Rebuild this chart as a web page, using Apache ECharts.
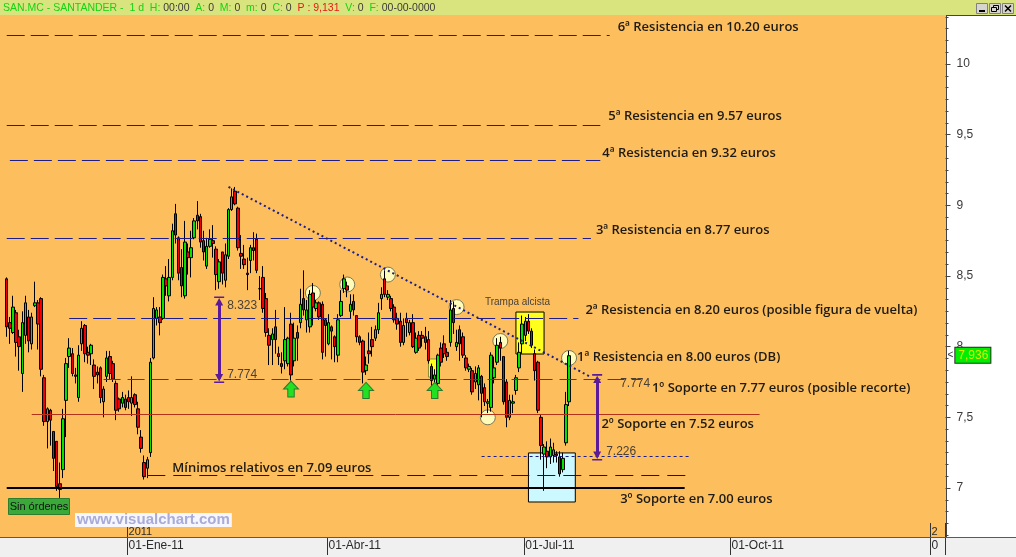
<!DOCTYPE html>
<html lang="es">
<head>
<meta charset="utf-8">
<title>SAN.MC - SANTANDER</title>
<script src="https://cdn.jsdelivr.net/npm/echarts@6/dist/echarts.min.js"></script>
<style>
html,body{margin:0;padding:0;background:#fdbf5d;overflow:hidden}
#chart{width:1016px;height:557px}
</style>
</head>
<body>
<div id="chart"></div>
<script>
// ---------------------------------------------------------------------------
// Sessions (trading days) shown on the horizontal axis
// ---------------------------------------------------------------------------
const FIRST_SESSION = [2010, 10, 9];            // 9 Nov 2010, month 0-based
const MARKET_HOLIDAYS = ['2011-04-22', '2011-04-25', '2011-12-26'];
const SESSION_COUNT = 301;
const MONTH_ABBR = ['Ene', 'Feb', 'Mar', 'Abr', 'May', 'Jun', 'Jul', 'Ago', 'Sep', 'Oct', 'Nov', 'Dic'];

// ---------------------------------------------------------------------------
// Daily candles, one per session from the first one: [open, close, low, high]
// ---------------------------------------------------------------------------
const candles = [
  [8.48, 8.14, 8.07, 8.49], [8.17, 8.13, 8.02, 8.21], [8.10, 8.28, 8.09, 8.36], [8.24, 8.03, 7.93, 8.26],
  [8.07, 8.00, 7.83, 8.12], [7.81, 8.17, 7.68, 8.25], [8.08, 8.31, 8.02, 8.36], [8.21, 8.04, 7.96, 8.26],
  [8.02, 8.21, 7.98, 8.24], [8.29, 8.31, 8.28, 8.46], [8.31, 8.16, 7.98, 8.33], [8.34, 7.84, 7.79, 8.35],
  [7.78, 7.47, 7.44, 7.80], [7.47, 7.56, 7.28, 7.57], [7.55, 7.48, 7.30, 7.56], [7.40, 7.21, 7.12, 7.40],
  [7.33, 7.01, 6.98, 7.33], [7.03, 6.99, 6.93, 7.18], [7.13, 7.49, 7.07, 7.56], [7.62, 7.88, 7.36, 7.92],
  [7.93, 7.99, 7.85, 8.06], [7.95, 7.81, 7.79, 7.99], [7.80, 7.79, 7.74, 7.85], [7.64, 7.94, 7.61, 8.01],
  [8.02, 8.13, 7.97, 8.18], [8.15, 7.95, 7.89, 8.16], [7.96, 7.94, 7.88, 8.00], [7.95, 8.01, 7.87, 8.02],
  [7.87, 7.79, 7.70, 7.91], [7.82, 7.80, 7.74, 7.86], [7.85, 7.64, 7.60, 7.86], [7.61, 7.70, 7.50, 7.72],
  [7.79, 7.92, 7.75, 7.97], [7.93, 7.81, 7.77, 7.97], [7.88, 7.77, 7.75, 7.90], [7.74, 7.55, 7.48, 7.76],
  [7.63, 7.56, 7.54, 7.64], [7.60, 7.64, 7.57, 7.68], [7.63, 7.57, 7.55, 7.66], [7.64, 7.61, 7.56, 7.69],
  [7.60, 7.64, 7.51, 7.79], [7.66, 7.59, 7.57, 7.67], [7.56, 7.43, 7.38, 7.61], [7.36, 7.28, 7.25, 7.41],
  [7.18, 7.08, 7.06, 7.23], [7.14, 7.20, 7.07, 7.22],
  [7.25, 7.89, 7.22, 7.92], [7.92, 8.27, 7.91, 8.35], [8.20, 8.26, 8.15, 8.28], [8.21, 8.17, 8.08, 8.28],
  [8.20, 8.49, 8.19, 8.51], [8.48, 8.43, 8.36, 8.57], [8.36, 8.49, 8.32, 8.62], [8.49, 8.82, 8.47, 8.87],
  [8.94, 8.79, 8.73, 9.01], [8.77, 8.52, 8.47, 8.78], [8.56, 8.43, 8.35, 8.69], [8.36, 8.74, 8.34, 8.89],
  [8.67, 8.63, 8.51, 8.73], [8.63, 8.70, 8.49, 8.82], [8.77, 8.89, 8.76, 8.91], [8.93, 8.89, 8.83, 9.03],
  [8.92, 8.74, 8.70, 8.94], [8.75, 8.67, 8.61, 8.82], [8.57, 8.71, 8.55, 8.77], [8.71, 8.76, 8.70, 8.83],
  [8.75, 8.73, 8.63, 8.86], [8.69, 8.51, 8.40, 8.71], [8.46, 8.60, 8.41, 8.62], [8.67, 8.52, 8.44, 8.67],
  [8.47, 8.65, 8.42, 8.73], [8.64, 8.97, 8.62, 8.98], [8.97, 9.06, 8.96, 9.12], [9.10, 9.01, 9.00, 9.13],
  [8.98, 8.70, 8.68, 8.99], [8.66, 8.64, 8.55, 8.79], [8.62, 8.58, 8.55, 8.72], [8.52, 8.51, 8.40, 8.63],
  [8.61, 8.70, 8.52, 8.72], [8.70, 8.68, 8.61, 8.81], [8.76, 8.54, 8.52, 8.80], [8.41, 8.41, 8.33, 8.50],
  [8.49, 8.27, 8.24, 8.57], [8.34, 8.10, 8.07, 8.38], [8.08, 8.01, 7.87, 8.13], [8.05, 8.09, 7.87, 8.13],
  [8.14, 8.05, 7.95, 8.26], [7.95, 7.93, 7.87, 8.00], [7.88, 7.86, 7.81, 7.96], [7.90, 8.05, 7.84, 8.28],
  [7.88, 8.06, 7.86, 8.07],
  [8.16, 7.80, 7.76, 8.24], [7.90, 8.06, 7.86, 8.17], [8.10, 8.06, 7.90, 8.15], [8.17, 8.30, 8.13, 8.41],
  [8.34, 8.26, 8.22, 8.54], [8.19, 8.26, 8.10, 8.33], [8.14, 8.37, 8.10, 8.40], [8.38, 8.28, 8.15, 8.45],
  [8.27, 8.31, 8.25, 8.33], [8.31, 8.21, 8.19, 8.32], [8.30, 7.96, 7.91, 8.32], [8.19, 8.15, 7.93, 8.20],
  [8.02, 8.17, 8.01, 8.23], [8.14, 8.11, 7.91, 8.15], [8.07, 8.00, 7.89, 8.08], [7.94, 8.19, 7.89, 8.23],
  [8.22, 8.32, 8.21, 8.40], [8.41, 8.48, 8.38, 8.51], [8.43, 8.40, 8.35, 8.46], [8.25, 8.30, 8.20, 8.37],
  [8.32, 8.26, 8.22, 8.37], [8.22, 8.07, 8.03, 8.22], [8.07, 8.03, 8.01, 8.08], [8.04, 7.82, 7.74, 8.05],
  [7.83, 7.87, 7.80, 7.93], [7.97, 7.95, 7.88, 8.10], [8.05, 8.00, 7.93, 8.14], [8.06, 8.12, 8.04, 8.15],
  [8.12, 8.24, 8.09, 8.31], [8.34, 8.37, 8.26, 8.42], [8.48, 8.37, 8.35, 8.54], [8.35, 8.37, 8.33, 8.40],
  [8.34, 8.27, 8.25, 8.36], [8.28, 8.19, 8.17, 8.30], [8.20, 8.16, 8.12, 8.24], [8.18, 8.03, 8.00, 8.24],
  [8.03, 8.15, 8.01, 8.20], [8.20, 8.17, 8.07, 8.24], [8.10, 8.17, 8.08, 8.19], [8.17, 8.00, 7.99, 8.23],
  [7.96, 8.06, 7.95, 8.10], [8.08, 7.99, 7.97, 8.11], [8.08, 8.06, 8.00, 8.11], [8.07, 8.03, 7.98, 8.14],
  [8.05, 7.90, 7.88, 8.11], [7.86, 7.76, 7.72, 7.88], [7.77, 7.80, 7.70, 7.84], [7.74, 7.94, 7.73, 7.95],
  [7.99, 7.89, 7.86, 8.03], [8.02, 7.95, 7.92, 8.08], [7.96, 7.93, 7.90, 7.99], [8.03, 8.26, 8.00, 8.33],
  [8.27, 8.17, 8.09, 8.32], [8.00, 8.03, 7.97, 8.12], [8.12, 8.02, 7.90, 8.15], [8.07, 7.94, 7.92, 8.10],
  [7.92, 7.85, 7.83, 7.94], [7.84, 7.86, 7.82, 7.88], [7.83, 7.68, 7.66, 7.85], [7.75, 7.81, 7.70, 7.86],
  [7.73, 7.85, 7.62, 7.87], [7.79, 7.67, 7.50, 7.80], [7.71, 7.61, 7.58, 7.74], [7.60, 7.61, 7.53, 7.63],
  [7.57, 7.94, 7.54, 7.96], [7.78, 7.85, 7.74, 7.93], [7.89, 8.01, 7.87, 8.06], [8.03, 7.99, 7.90, 8.07],
  [7.93, 7.61, 7.59, 7.93], [7.75, 7.50, 7.43, 7.77], [7.50, 7.62, 7.48, 7.66], [7.60, 7.61, 7.53, 7.66],
  [7.69, 7.78, 7.66, 7.80], [7.85, 7.96, 7.82, 8.03], [8.02, 8.16, 7.95, 8.22], [8.08, 8.18, 8.04, 8.21],
  [8.18, 8.11, 8.09, 8.23], [8.11, 8.01, 7.99, 8.13], [7.95, 7.83, 7.76, 7.98], [7.89, 7.55, 7.53, 7.90],
  [7.50, 7.30, 7.20, 7.52], [7.24, 7.29, 6.98, 7.31], [7.26, 7.22, 7.14, 7.33], [7.22, 7.29, 7.17, 7.35],
  [7.23, 7.27, 7.18, 7.32], [7.24, 7.23, 7.18, 7.26], [7.22, 7.10, 7.08, 7.26], [7.13, 7.21, 7.11, 7.25],
  [7.32, 7.59, 7.30, 7.68], [7.61, 7.936, 7.58, 7.97]
];
const LAST_PRICE = 7.936;

// ---------------------------------------------------------------------------
// Drawn analysis: price levels, captions and marked points
// ---------------------------------------------------------------------------
const resistanceLevels = [10.20, 9.57, 9.32, 8.77, 8.20];
const resistanceTexts = [
  '6ª Resistencia en 10.20 euros',
  '5ª Resistencia en 9.57 euros',
  '4ª Resistencia en 9.32 euros',
  '3ª Resistencia en 8.77 euros',
  '2ª Resistencia en 8.20 euros (posible figura de vuelta)'
];
const supportLevels = [7.77, 7.52, 7.00];
const supportTexts = [
  '1º Soporte en 7.77 euros (posible recorte)',
  '2º Soporte en 7.52 euros',
  '3º Soporte en 7.00 euros'
];
const relativeLowLevel = 7.09;
const relativeLowText = 'Mínimos relativos en 7.09 euros';
const firstResistanceText = '1ª Resistencia en 8.00 euros (DB)';
const trapText = 'Trampa alcista';
// measured swings: [from, to]
const swingRanges = [[8.323, 7.774], [7.774, 7.226]];
// falling trend line from the February top: [session, price]
const trendLine = [[71, 9.13], [187, 7.785]];
// highs / lows touched on the way: [session, price]
const touchPoints = [[98, 8.38], [109, 8.44], [122, 8.51], [144, 8.28], [158, 8.04], [154, 7.50], [180, 7.92]];
// rebounds on the first support: [session, price]
const reboundSignals = [[91, 7.70], [115, 7.69], [137, 7.69]];
// highlighted boxes: [[session, top], [session, bottom]]
const signalBox = [[135, 7.913], [138, 7.785]];
const trapBox = [[163, 8.245], [172, 7.948]];
const bottomBox = [[167, 7.248], [182, 6.901]];

// ---------------------------------------------------------------------------
// Layout of the drawings (session spans and caption shifts in pixels)
// ---------------------------------------------------------------------------
const LAYOUT = {
  resistanceSpans: [[0, 193], [0, 190], [1, 190], [0, 187], [20, 183]],
  resistanceTextShift: [[8, -8], [8, -8], [2, -7], [5, -8], [7, -8]],
  supportSpans: [[31, 203], [8, 241], [0, 217]],
  supportTextAt: [[203, 11, 9], [191, -2, 10], [197, -2, 11]],
  relativeLowSpan: [45, 219],
  relativeLowTextAt: [53, 0, -7],
  swingLowSpan: [152, 219],
  swingAt: [68, 189],
  swingTextShift: [[[8, 5], [8, -4]], [[23, 5], [9, -4]]],
  firstResistanceShift: [8, -1],
  trapTextShift: [-31, -10]
};

// plot geometry
const GRID_LEFT = 5.16, GRID_RIGHT_EDGE = 945.5;
const Y_MIN = 6.5, Y_MAX = 10.5;
const GRID_TOP = -6.67, GRID_HEIGHT = 565.33;
const AXIS_Y = 537;
const AXIS_OFFSET = AXIS_Y - (GRID_TOP + GRID_HEIGHT);

// ---------------------------------------------------------------------------
// Session calendar and axis captions
// ---------------------------------------------------------------------------
const sessions = (() => {
  const out = [];
  const d = new Date(Date.UTC(FIRST_SESSION[0], FIRST_SESSION[1], FIRST_SESSION[2]));
  while (out.length < SESSION_COUNT) {
    const iso = d.toISOString().slice(0, 10);
    const wd = d.getUTCDay();
    if (wd !== 0 && wd !== 6 && !MARKET_HOLIDAYS.includes(iso)) out.push(iso);
    d.setUTCDate(d.getUTCDate() + 1);
  }
  return out;
})();
const quarterLabel = {};
const yearLabel = {};
sessions.forEach((iso, i) => {
  if (i === 0) return;
  const prev = sessions[i - 1];
  const m = Number(iso.slice(5, 7)) - 1;
  if (prev.slice(5, 7) !== iso.slice(5, 7) && m % 3 === 0) {
    quarterLabel[i] = '01-' + MONTH_ABBR[m] + '-' + iso.slice(2, 4);
  }
  if (prev.slice(0, 4) !== iso.slice(0, 4)) yearLabel[i] = iso.slice(0, 4);
});
// captions starting in the last sessions are cut off by the right frame
const cutAtFrame = (text, i) => (i > SESSION_COUNT - 8 ? text.slice(0, 1) : text);
const decimalComma = v => String(v).replace('.', ',');

// ---------------------------------------------------------------------------
// Styles
// ---------------------------------------------------------------------------
const NAVY = '#1c1c8a';
const CAPTION = { color: '#1e1a14', fontFamily: '"Open Sans", Lato, sans-serif', fontSize: 13, fontWeight: 600 };
const SMALL = { color: '#4a4038', fontFamily: '"Liberation Sans", sans-serif', fontSize: 12 };
const TINY = { color: '#4a4038', fontFamily: '"Liberation Sans", sans-serif', fontSize: 10 };
const T_BAR_ARROW = 'path://M0,0 L10,0 L10,1.6 L0,1.6 Z M5,1.6 L9,9 L1,9 Z';
const UP_ARROW = 'path://M7,0 L14,8 L10,8 L10,16 L4,16 L4,8 L0,8 Z';

// ---------------------------------------------------------------------------
// Lines
// ---------------------------------------------------------------------------
const segment = (a, b, v, lineStyle) => [{ coord: [a, v], lineStyle }, { coord: [b, v] }];
const lines = [];
resistanceLevels.forEach((v, k) => {
  const [a, b] = LAYOUT.resistanceSpans[k];
  lines.push(segment(a, b, v, { color: NAVY, width: 1, type: [18, 6] }));
});
const supportStyles = [
  { color: '#a0200e', width: 1, type: [17, 7] },
  { color: '#b4321a', width: 1, type: 'solid' },
  { color: '#000000', width: 2, type: 'solid' }
];
supportLevels.forEach((v, k) => {
  const [a, b] = LAYOUT.supportSpans[k];
  lines.push(segment(a, b, v, supportStyles[k]));
});
lines.push(segment(LAYOUT.relativeLowSpan[0], LAYOUT.relativeLowSpan[1], relativeLowLevel,
  { color: '#1a1a1a', width: 1, type: [18, 8] }));
lines.push(segment(LAYOUT.swingLowSpan[0], LAYOUT.swingLowSpan[1], swingRanges[1][1],
  { color: NAVY, width: 1, type: [3, 3] }));
lines.push([
  { coord: trendLine[0], lineStyle: { color: NAVY, width: 2, type: [2, 3] } },
  { coord: trendLine[1] }
]);
swingRanges.forEach(([from, to], k) => {
  const x = LAYOUT.swingAt[k];
  lines.push([
    { coord: [x, from], symbol: T_BAR_ARROW, symbolSize: [10, 9],
      lineStyle: { color: '#5a1a99', width: 3, type: 'solid' } },
    { coord: [x, to], symbol: T_BAR_ARROW, symbolSize: [10, 9] }
  ]);
});

// ---------------------------------------------------------------------------
// Captions
// ---------------------------------------------------------------------------
const note = (coord, text, shift, style) => ({
  coord,
  label: Object.assign({ show: true, position: 'right', distance: 0, formatter: text, offset: shift }, style)
});
const notes = [];
resistanceLevels.forEach((v, k) => {
  notes.push(note([LAYOUT.resistanceSpans[k][1], v], resistanceTexts[k], LAYOUT.resistanceTextShift[k], CAPTION));
});
supportLevels.forEach((v, k) => {
  const [at, dx, dy] = LAYOUT.supportTextAt[k];
  notes.push(note([at, v], supportTexts[k], [dx, dy], CAPTION));
});
notes.push(note([LAYOUT.relativeLowTextAt[0], relativeLowLevel], relativeLowText,
  LAYOUT.relativeLowTextAt.slice(1), CAPTION));
const lastTouch = touchPoints[touchPoints.length - 1];
notes.push(note(lastTouch, firstResistanceText, LAYOUT.firstResistanceShift, CAPTION));
notes.push(note(trapBox[0], trapText, LAYOUT.trapTextShift, TINY));
swingRanges.forEach(([from, to], k) => {
  const x = LAYOUT.swingAt[k];
  notes.push(note([x, from], String(from), LAYOUT.swingTextShift[k][0], SMALL));
  notes.push(note([x, to], String(to), LAYOUT.swingTextShift[k][1], SMALL));
});

// ---------------------------------------------------------------------------
// Window chrome
// ---------------------------------------------------------------------------
const headerParts = [
  ['SAN.MC - SANTANDER -  1 d  H: ', 'g'], ['00:00', 'k'], ['  A: ', 'g'], ['0', 'k'],
  ['  M: ', 'g'], ['0', 'k'], ['  m: ', 'g'], ['0', 'k'], ['  C: ', 'g'], ['0', 'k'],
  ['  P : 9,131', 'r'], ['  V: ', 'g'], ['0', 'k'], ['  F: ', 'g'], ['00-00-0000', 'k']
];
const HEADER_FONT = '10.5px "Liberation Sans", Arial, sans-serif';
const buttonX = [976, 989, 1002];
const windowButtons = [];
buttonX.forEach((x) => {
  windowButtons.push({ type: 'rect', z: 101, silent: true, shape: { x: x + 0.5, y: 3.5, width: 11, height: 10 },
    style: { fill: '#d8d5cf', stroke: '#808080', lineWidth: 1 } });
});
windowButtons.push({ type: 'rect', z: 102, silent: true, shape: { x: 979, y: 10, width: 6, height: 2 }, style: { fill: '#000' } });
windowButtons.push({ type: 'rect', z: 102, silent: true, shape: { x: 993.5, y: 5.5, width: 5, height: 4 }, style: { fill: 'none', stroke: '#000', lineWidth: 1 } });
windowButtons.push({ type: 'rect', z: 102, silent: true, shape: { x: 991.5, y: 7.5, width: 5, height: 4 }, style: { fill: '#d8d5cf', stroke: '#000', lineWidth: 1 } });
windowButtons.push({ type: 'line', z: 102, silent: true, shape: { x1: 1005, y1: 5.5, x2: 1011, y2: 11.5 }, style: { stroke: '#000', lineWidth: 1.5 } });
windowButtons.push({ type: 'line', z: 102, silent: true, shape: { x1: 1011, y1: 5.5, x2: 1005, y2: 11.5 }, style: { stroke: '#000', lineWidth: 1.5 } });

// ---------------------------------------------------------------------------
// Chart
// ---------------------------------------------------------------------------
const chart = echarts.init(document.getElementById('chart'), null, { renderer: 'canvas' });
chart.setOption({
  animation: false,
  backgroundColor: '#fdbf5d',
  textStyle: { fontFamily: '"Liberation Sans", sans-serif' },
  grid: {
    left: GRID_LEFT, right: 1016 - GRID_RIGHT_EDGE, top: GRID_TOP, height: GRID_HEIGHT,
    containLabel: false, outerBoundsMode: 'none', show: false
  },
  xAxis: [
    {
      type: 'category', data: sessions, boundaryGap: true, position: 'bottom', offset: AXIS_OFFSET, z: 5,
      axisLine: { show: false, onZero: false }, splitLine: { show: false },
      axisTick: { show: true, interval: i => i in quarterLabel, length: 18, lineStyle: { color: '#333', width: 1 } },
      axisLabel: {
        show: true, interval: i => i in quarterLabel, align: 'left', margin: 3,
        color: '#2a2a2a', fontSize: 12, fontFamily: '"Liberation Sans", sans-serif',
        formatter: (v, i) => cutAtFrame(quarterLabel[i] || '', i)
      }
    },
    {
      type: 'category', data: sessions, boundaryGap: true, position: 'bottom', offset: AXIS_OFFSET, z: 5,
      axisLine: { show: false, onZero: false }, splitLine: { show: false },
      axisTick: { show: true, inside: true, interval: i => i in yearLabel, length: 14, lineStyle: { color: '#333', width: 1 } },
      axisLabel: {
        show: true, inside: true, interval: i => i in yearLabel, align: 'left', margin: 0,
        color: '#2a2a2a', fontSize: 11, fontFamily: '"Liberation Sans", sans-serif',
        formatter: (v, i) => cutAtFrame(yearLabel[i] || '', i)
      }
    }
  ],
  yAxis: {
    type: 'value', position: 'right', min: Y_MIN, max: Y_MAX, interval: 0.5,
    axisLine: { show: false }, splitLine: { show: false },
    axisTick: { show: true, length: 5, lineStyle: { color: '#444' } },
    minorTick: { show: true, splitNumber: 6, length: 3, lineStyle: { color: '#444' } },
    minorSplitLine: { show: false },
    axisLabel: { margin: 11, color: '#3a3a3a', fontSize: 12, fontFamily: '"Liberation Sans", sans-serif', formatter: decimalComma }
  },
  series: [
    {
      // touched points and highlighted boxes, behind the candles
      type: 'scatter', name: 'toques', z: 1, silent: true,
      data: touchPoints, symbol: 'circle', symbolSize: 15,
      itemStyle: { color: '#fffbb8', borderColor: '#7a765a', borderWidth: 1, opacity: 1 },
      markArea: {
        silent: true,
        data: [
          [{ coord: signalBox[0], itemStyle: { color: '#ffff1e', borderColor: '#8c8c30', borderWidth: 1 } }, { coord: signalBox[1] }],
          [{ coord: trapBox[0], itemStyle: { color: '#ffff1e', borderColor: '#000', borderWidth: 1 } }, { coord: trapBox[1] }],
          [{ coord: bottomBox[0], itemStyle: { color: '#ccf8ff', borderColor: '#000', borderWidth: 1 } }, { coord: bottomBox[1] }]
        ]
      }
    },
    {
      type: 'candlestick', name: 'SAN.MC', z: 2, barWidth: 3, silent: true,
      data: candles,
      itemStyle: { color: '#00e400', color0: '#f00000', borderColor: '#000', borderColor0: '#000', borderWidth: 1 },
      markLine: {
        silent: true, symbol: ['none', 'none'],
        lineStyle: { color: 'rgba(0,0,0,0)', width: 0 },
        label: {
          show: true, position: 'end', distance: 2,
          formatter: () => '{a|<}{b|' + decimalComma(LAST_PRICE) + '}',
          rich: {
            a: { color: '#333', fontSize: 10, padding: [0, 2, 0, 0] },
            b: { color: '#e4e800', backgroundColor: '#00ee00', borderColor: '#2a2a2a', borderWidth: 1,
                 padding: [2, 2, 1, 3], fontSize: 12, fontFamily: '"Liberation Sans", sans-serif' }
          }
        },
        data: [{ yAxis: LAST_PRICE }]
      }
    },
    {
      type: 'scatter', name: 'rebotes', z: 4, silent: true,
      data: reboundSignals, symbol: UP_ARROW, symbolSize: [15, 16],
      itemStyle: { color: '#22e022', borderColor: '#2b7a2b', borderWidth: 1, opacity: 1 }
    },
    {
      type: 'line', name: 'trazos', z: 3, silent: true, data: [],
      markLine: { silent: true, symbol: ['none', 'none'], label: { show: false }, data: lines },
      markPoint: {
        silent: true, symbol: 'circle', symbolSize: 0,
        itemStyle: { color: 'rgba(0,0,0,0)' },
        data: notes
      }
    }
  ],
  graphic: [
    { type: 'rect', z: -1, silent: true, shape: { x: 946, y: 15, width: 70, height: 522 }, style: { fill: '#ffffff' } },
    { type: 'rect', z: 3, silent: true, shape: { x: 0, y: 537, width: 1016, height: 20 }, style: { fill: '#f0f0f0' } },
    { type: 'line', z: 6, silent: true, shape: { x1: 0, y1: 537.5, x2: 1016, y2: 537.5 }, style: { stroke: '#5a5a5a', lineWidth: 1 } },
    { type: 'line', z: 6, silent: true, shape: { x1: 946.5, y1: 15, x2: 946.5, y2: 537 }, style: { stroke: '#444', lineWidth: 1 } },
    { type: 'line', z: 6, silent: true, shape: { x1: 946, y1: 15.5, x2: 1016, y2: 15.5 }, style: { stroke: '#444', lineWidth: 1 } },
    { type: 'rect', z: 100, silent: true, shape: { x: 0, y: 0, width: 1016, height: 15 }, style: { fill: '#dae47f' } },
    {
      type: 'text', z: 101, silent: true,
      style: {
        x: 3, y: 8, verticalAlign: 'middle', font: HEADER_FONT, fill: '#3a3a3a',
        text: headerParts.map(([t, k]) => '{' + k + '|' + t + '}').join(''),
        rich: {
          g: { fill: '#12d412', font: HEADER_FONT },
          k: { fill: '#3a3a3a', font: HEADER_FONT },
          r: { fill: '#f01414', font: HEADER_FONT }
        }
      }
    },
    ...windowButtons,
    { type: 'rect', z: 7, silent: true, shape: { x: 8.5, y: 498.5, width: 61, height: 16 }, style: { fill: '#3aa93a', stroke: '#2c7d2c', lineWidth: 1 } },
    { type: 'text', z: 8, silent: true, style: { x: 39, y: 507, text: 'Sin órdenes', align: 'center', verticalAlign: 'middle',
      font: '11px "Liberation Sans Narrow", "Liberation Sans", sans-serif', fill: '#111' } },
    { type: 'text', z: 7, silent: true, style: { x: 75, y: 513, text: 'www.visualchart.com', verticalAlign: 'top', lineHeight: 14,
      font: 'bold 15px "Liberation Sans", sans-serif', fill: '#a8acd8', backgroundColor: '#f6f6fc', padding: [0, 2, 0, 2] } }
  ]
});
</script>
</body>
</html>
